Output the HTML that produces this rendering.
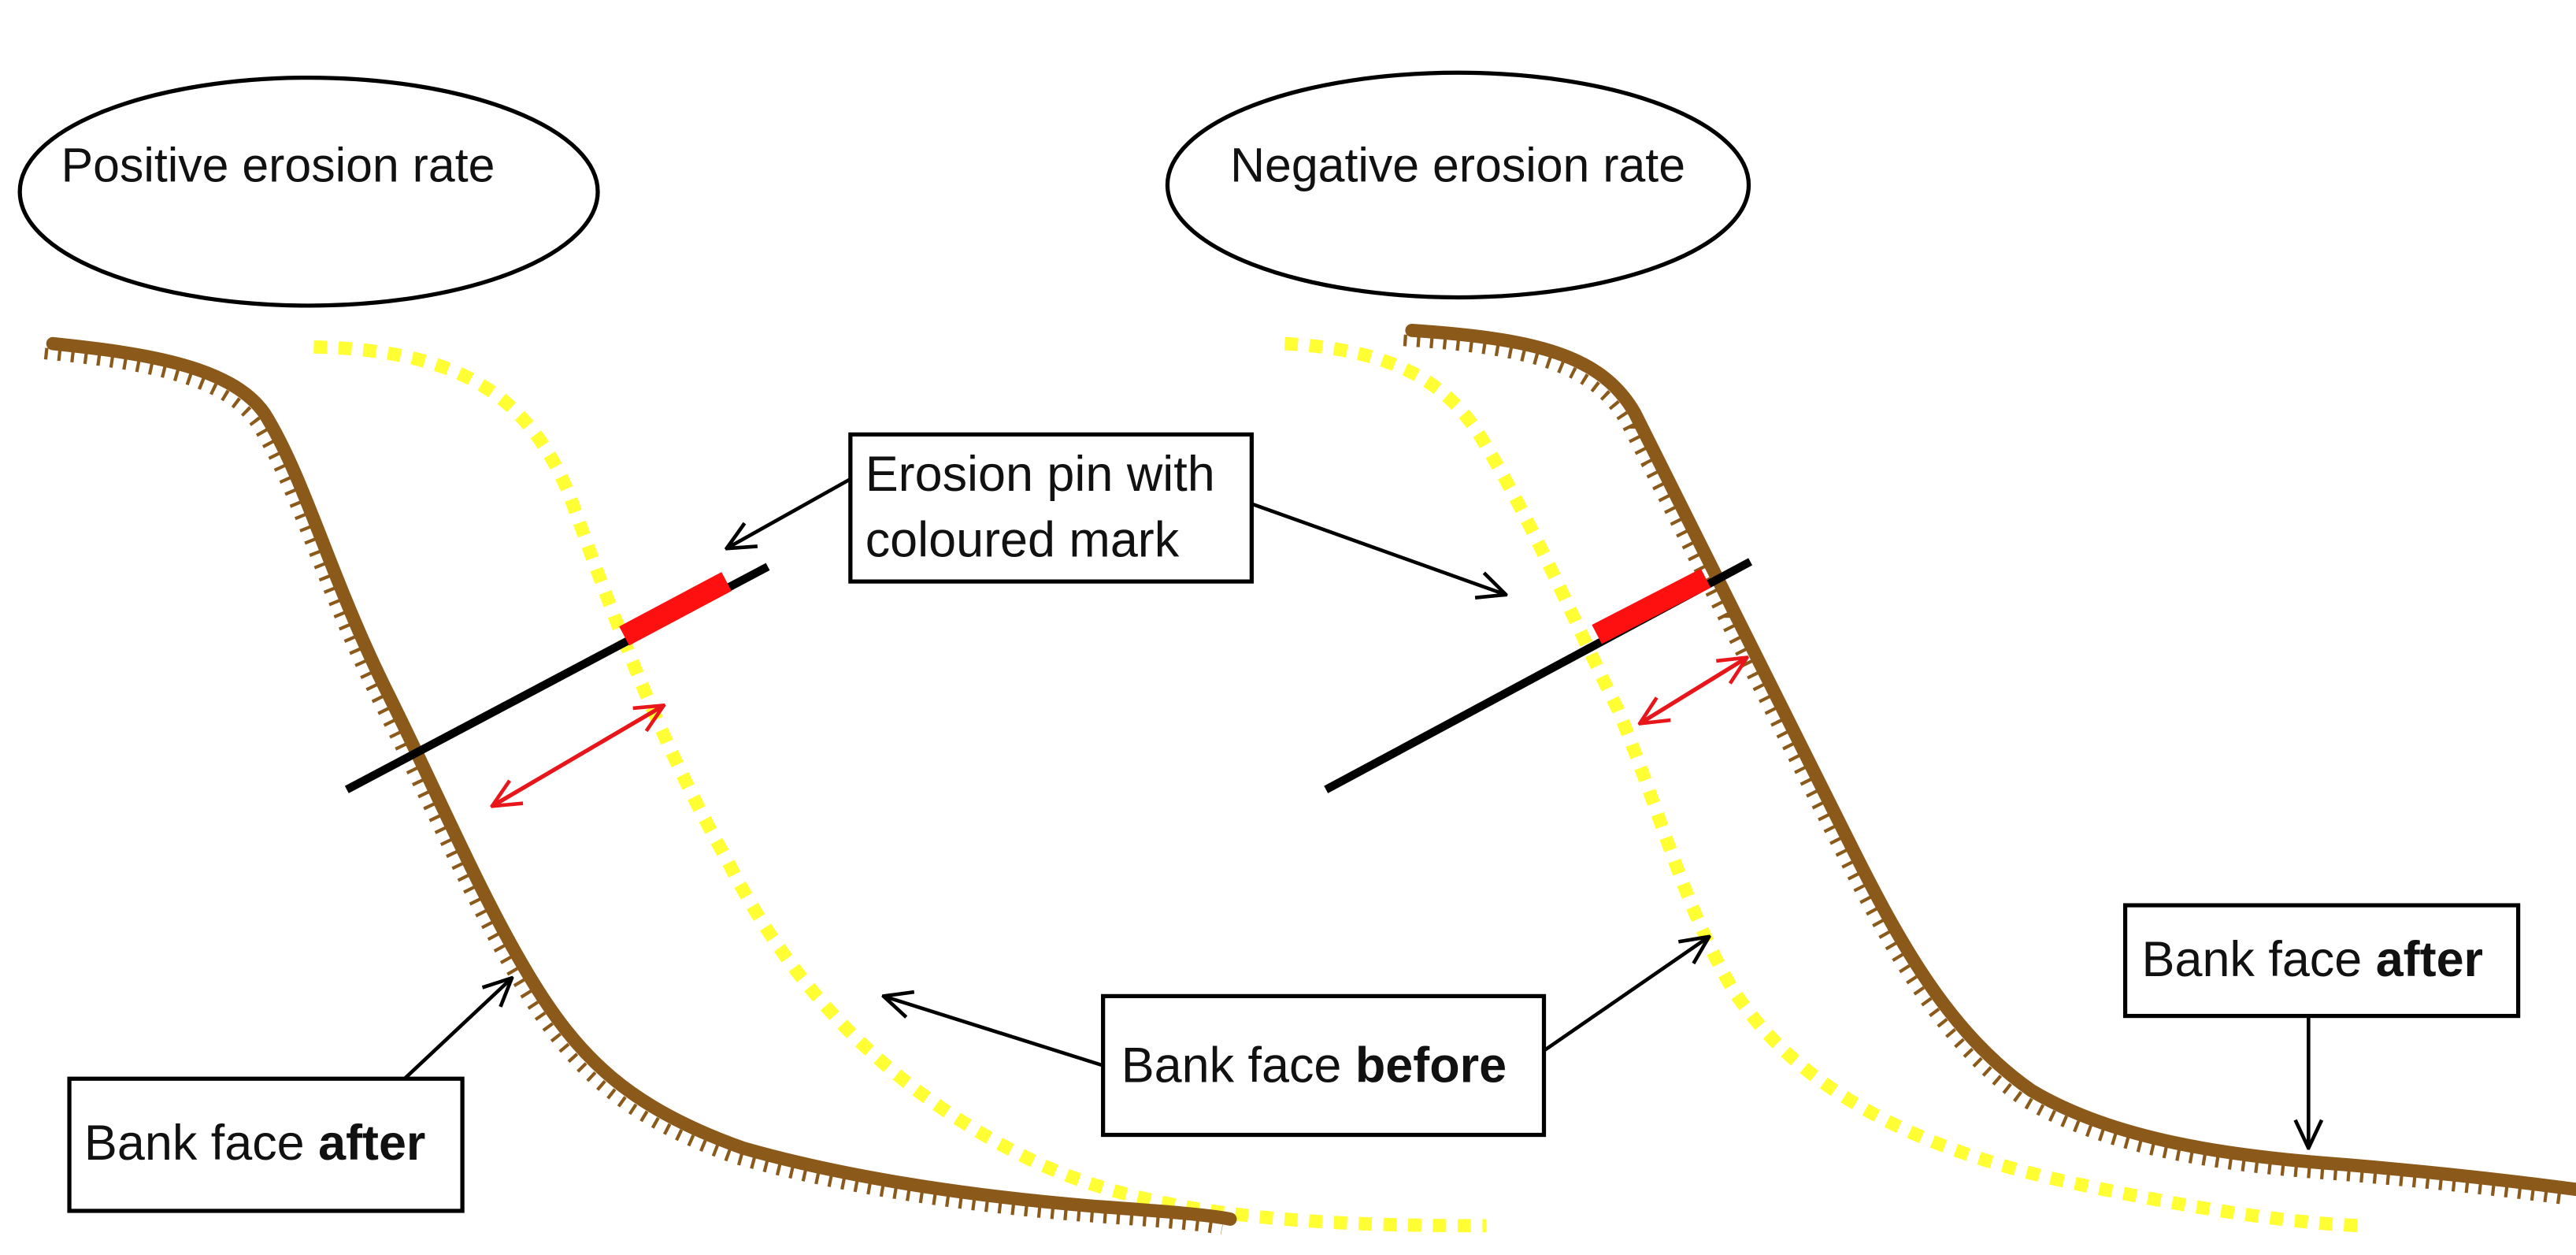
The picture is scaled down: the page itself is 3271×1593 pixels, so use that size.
<!DOCTYPE html>
<html><head><meta charset="utf-8"><style>
html,body{margin:0;padding:0;background:#fff}
svg{display:block}
text{font-family:"Liberation Sans","DejaVu Sans",sans-serif;fill:#111}
</style></head><body>
<svg width="3271" height="1593" viewBox="0 0 1560 759.7" xmlns="http://www.w3.org/2000/svg">
<defs>
<marker id="ah" viewBox="0 0 20 20" refX="19" refY="10" markerWidth="20" markerHeight="20" markerUnits="userSpaceOnUse" orient="auto-start-reverse">
<path d="M2,2 L19,10 L2,18" fill="none" stroke="#000" stroke-width="2.2"/></marker>
<marker id="rh" viewBox="0 0 20 20" refX="19" refY="10" markerWidth="20" markerHeight="20" markerUnits="userSpaceOnUse" orient="auto-start-reverse">
<path d="M2,2 L19,10 L2,18" fill="none" stroke="#e8151b" stroke-width="2.2"/></marker>
</defs>
<ellipse cx="187" cy="116" rx="175" ry="69" fill="#fff" stroke="#000" stroke-width="2.5"/>
<text x="37" y="110" font-size="29">Positive erosion rate</text>
<ellipse cx="883" cy="112" rx="176" ry="68" fill="#fff" stroke="#000" stroke-width="2.5"/>
<text x="745" y="110" font-size="29">Negative erosion rate</text>

<!-- left yellow -->
<path d="M190,210 C280,212 320,240 345,300 C370,370 400,450 440,520 C480,600 540,660 620,700 C690,735 780,742 900,742" fill="none" stroke="#ffff33" stroke-width="8" stroke-dasharray="8,7"/>
<!-- left brown -->
<g fill="none" stroke="#8b5a1b" stroke-linecap="round">
<path d="M32,208 C90,214 140,222 160,250 C185,290 200,350 235,420 C265,480 290,540 320,590 C350,640 380,670 450,695 C520,715 600,725 660,730 C700,733 730,735 745,738" stroke-width="8"/>
<path transform="translate(-5,6)" d="M32,208 C90,214 140,222 160,250 C185,290 200,350 235,420 C265,480 290,540 320,590 C350,640 380,670 450,695 C520,715 600,725 660,730 C700,733 730,735 745,738" stroke-width="7" stroke-linecap="butt" stroke-dasharray="2,6"/>
</g>
<!-- right yellow -->
<path d="M778,208 C850,212 880,235 900,270 C930,320 955,380 980,430 C1005,490 1020,550 1050,600 C1090,660 1160,695 1250,715 C1320,730 1380,740 1430,742" fill="none" stroke="#ffff33" stroke-width="8" stroke-dasharray="8,7"/>
<!-- right brown -->
<g fill="none" stroke="#8b5a1b" stroke-linecap="round">
<path d="M855,200 C930,205 970,215 990,250 C1010,290 1030,330 1050,370 C1070,410 1090,450 1120,510 C1150,570 1180,625 1230,660 C1280,690 1350,700 1420,705 C1480,710 1530,716 1560,720" stroke-width="8"/>
<path transform="translate(-5,6)" d="M855,200 C930,205 970,215 990,250 C1010,290 1030,330 1050,370 C1070,410 1090,450 1120,510 C1150,570 1180,625 1230,660 C1280,690 1350,700 1420,705 C1480,710 1530,716 1560,720" stroke-width="7" stroke-linecap="butt" stroke-dasharray="2,6"/>
</g>

<!-- pins -->
<line x1="210" y1="478" x2="465" y2="343" stroke="#000" stroke-width="5"/>
<line x1="378" y1="385" x2="440" y2="352" stroke="#ff1010" stroke-width="13"/>
<line x1="803" y1="478" x2="1060" y2="340" stroke="#000" stroke-width="5"/>
<line x1="967" y1="384" x2="1033" y2="350" stroke="#ff1010" stroke-width="13"/>
<!-- red arrows -->
<line x1="298" y1="488" x2="402" y2="427" stroke="#e8151b" stroke-width="2.5" marker-start="url(#rh)" marker-end="url(#rh)"/>
<line x1="993" y1="438" x2="1058" y2="398" stroke="#e8151b" stroke-width="2.5" marker-start="url(#rh)" marker-end="url(#rh)"/>

<!-- black arrows -->
<g stroke="#000" stroke-width="2.2" fill="none">
<line x1="515" y1="290" x2="440" y2="332" marker-end="url(#ah)"/>
<line x1="758" y1="305" x2="912" y2="360" marker-end="url(#ah)"/>
<line x1="245" y1="653" x2="310" y2="592" marker-end="url(#ah)"/>
<line x1="668" y1="645" x2="535" y2="603" marker-end="url(#ah)"/>
<line x1="935" y1="636" x2="1035" y2="567" marker-end="url(#ah)"/>
<line x1="1398" y1="615" x2="1398" y2="695" marker-end="url(#ah)"/>
</g>

<!-- boxes -->
<g fill="#fff" stroke="#000" stroke-width="2.5">
<rect x="515" y="263" width="243" height="89"/>
<rect x="42" y="653" width="238" height="80"/>
<rect x="668" y="603" width="267" height="84"/>
<rect x="1287" y="548" width="238" height="67"/>
</g>
<text x="524" y="297" font-size="30">Erosion pin with</text>
<text x="524" y="337" font-size="30">coloured mark</text>
<text x="51" y="702" font-size="30">Bank face <tspan font-weight="bold">after</tspan></text>
<text x="679" y="655" font-size="30">Bank face <tspan font-weight="bold">before</tspan></text>
<text x="1297" y="591" font-size="30">Bank face <tspan font-weight="bold">after</tspan></text>
</svg>
</body></html>
